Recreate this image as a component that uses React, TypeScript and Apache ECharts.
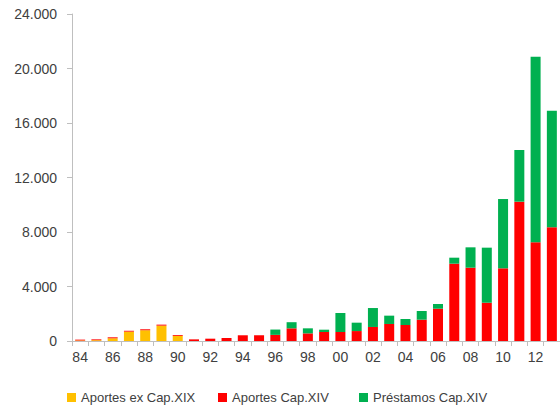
import React, { useEffect, useRef } from "react";
import * as echarts from "echarts";

const years = ["84","85","86","87","88","89","90","91","92","93","94","95","96","97","98","99","00","01","02","03","04","05","06","07","08","09","10","11","12","13"];
const aportesXIX = [40,60,200,690,790,1130,380,0,0,0,0,0,0,0,0,0,0,0,0,0,0,0,0,0,0,0,0,0,0,0];
const aportesXIV = [60,60,70,60,70,70,60,120,170,220,420,420,450,930,560,660,660,730,1030,1250,1175,1565,2370,5675,5380,2810,5335,10225,7245,8345];
const prestamosXIV = [0,0,0,0,0,0,0,0,0,0,0,0,390,450,370,170,1395,615,1390,610,440,635,345,440,1495,4040,5085,3795,13625,8560];
const seriesNames = ["Aportes ex Cap.XIX", "Aportes Cap.XIV", "Préstamos Cap.XIV"];
const yTicks = { min: 0, max: 24000, interval: 4000 };

const FONT = "Liberation Sans";

export default function App() {
  const ref = useRef<HTMLDivElement>(null);
  useEffect(() => {
    if (!ref.current) return;
    const chart = echarts.init(ref.current, null, { renderer: "svg" });
    const legendLefts = [62, 213, 354];
    chart.setOption({
      animation: false,
      textStyle: { fontFamily: FONT },
      grid: { left: 72, top: 14, width: 492, bottom: 65, containLabel: false },
      legend: seriesNames.map((n, i) => ({
        left: legendLefts[i],
        top: 386,
        itemWidth: 9,
        itemHeight: 9,
        itemGap: 5,
        icon: "rect",
        textStyle: { fontFamily: FONT, fontSize: 13, color: "#404040" },
        data: [n],
      })),
      xAxis: {
        type: "category",
        data: years,
        axisLine: { lineStyle: { color: "#BFBFBF" } },
        axisTick: { show: true, interval: 0, length: 5, lineStyle: { color: "#BFBFBF" } },
        axisLabel: { interval: 1, margin: 9, fontSize: 14, color: "#404040", fontFamily: FONT },
      },
      yAxis: {
        type: "value",
        min: yTicks.min,
        max: yTicks.max,
        interval: yTicks.interval,
        splitLine: { show: false },
        axisLine: { show: true, lineStyle: { color: "#BFBFBF" } },
        axisTick: { show: true, length: 5, lineStyle: { color: "#BFBFBF" } },
        axisLabel: {
          margin: 15,
          fontSize: 14,
          color: "#404040",
          fontFamily: FONT,
          formatter: (v: number) => (v === 0 ? "0" : (v / 1000).toFixed(3)),
        },
      },
      series: [
        { name: seriesNames[0], type: "bar", stack: "t", data: aportesXIX, barWidth: 10, itemStyle: { color: "#FFC000" } },
        { name: seriesNames[1], type: "bar", stack: "t", data: aportesXIV, barWidth: 10, itemStyle: { color: "#FF0000" } },
        { name: seriesNames[2], type: "bar", stack: "t", data: prestamosXIV, barWidth: 10, itemStyle: { color: "#00B050" } },
      ],
    });
    return () => chart.dispose();
  }, []);
  return <div ref={ref} style={{ width: 560, height: 406, position: "absolute", left: 0, top: 0 }} />;
}
